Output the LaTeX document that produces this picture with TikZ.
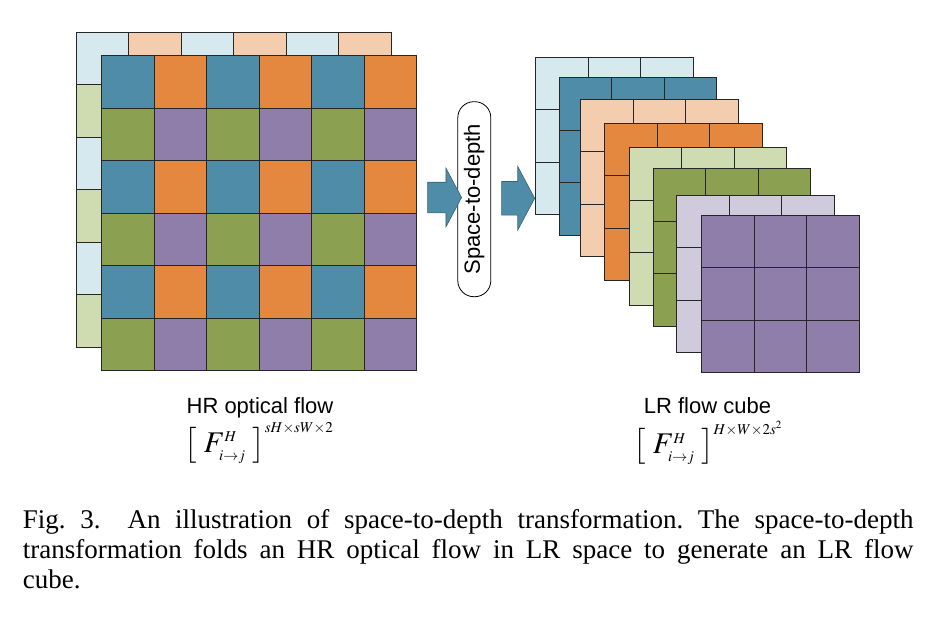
\documentclass[tikz,border=0pt]{standalone}
\usepackage{mathptmx}
\usepackage[no-math]{fontspec}
\setmainfont{Liberation Serif}
\newfontfamily\labelfont{Liberation Sans}
\usetikzlibrary{shapes.arrows}
\DeclareMathSizes{30}{30}{15}{11}

% cell colours: back layer and front layer of the HR flow
\definecolor{back00}{HTML}{D6E9EF}
\definecolor{back01}{HTML}{F4CDAE}
\definecolor{back10}{HTML}{CFDBB1}
\definecolor{back11}{HTML}{D0CADD}
\definecolor{front00}{HTML}{4E8CA7}
\definecolor{front01}{HTML}{E3883E}
\definecolor{front10}{HTML}{8CA052}
\definecolor{front11}{HTML}{8E7EA9}

\begin{document}
\frenchspacing
\begin{tikzpicture}[x=1pt, y=-1pt,
    cell/.style={draw=black!85, line width=0.7pt},
    blockarrow/.style={single arrow, draw=front00!70!black, fill=front00, line width=0.6pt,
        minimum height=34pt, inner xsep=0pt, inner ysep=15pt, single arrow head extend=14pt,
        single arrow tip angle=124},
    pill/.style={draw, line width=0.8pt, rounded corners=16pt, rotate=90, inner sep=0pt,
        minimum width=195pt, minimum height=33pt, font=\labelfont\fontsize{22}{26}\selectfont},
    labeltext/.style={inner sep=0pt, font=\labelfont\fontsize{22}{26}\selectfont},
    mathtext/.style={inner sep=0pt, font=\fontsize{30}{34}\selectfont},
    captext/.style={inner sep=0pt, anchor=base west, font=\fontsize{27}{30}\selectfont}]

    \useasboundingbox (0,0) rectangle (934,616);

    % HR optical flow: back layer (only top row and left column show)
    \coordinate (HRback) at (76,32.3);
    \foreach \r in {0,...,5}
      \foreach \c in {0,...,5}{
        \pgfmathtruncatemacro\rr{mod(\r,2)}
        \pgfmathtruncatemacro\cc{mod(\c,2)}
        \draw[cell, fill=back\rr\cc, shift={(HRback)}] (52.5*\c,52.5*\r) rectangle ++(52.5,52.5);
      }

    % HR optical flow: front layer
    \coordinate (HRfront) at (101.7,55.7);
    \foreach \r in {0,...,5}
      \foreach \c in {0,...,5}{
        \pgfmathtruncatemacro\rr{mod(\r,2)}
        \pgfmathtruncatemacro\cc{mod(\c,2)}
        \draw[cell, fill=front\rr\cc, shift={(HRfront)}] (52.5*\c,52.5*\r) rectangle ++(52.5,52.5);
      }

    % Space-to-depth step between the two
    \node[pill] (s2d) at (474.3,199.2) {Space-to-depth};
    \node[blockarrow] (toS2D) at (440.5,197.5) {};
    \node[blockarrow, minimum height=33pt, inner ysep=16.5pt, single arrow head extend=15pt] (toLR) at (513.7,198.3) {};

    % LR flow cube: eight 3x3 layers, back to front
    \foreach \x/\y/\col [count=\k] in {535.7/57.3/back00, 559/77.7/front00, 580.7/99.3/back01,
        604.7/123.3/front01, 629.3/147.7/back10, 653/168.7/front10, 676.7/195.3/back11, 701.7/215.3/front11}{
      \coordinate (LR\k) at (\x,\y);
      \foreach \r in {0,1,2}
        \foreach \c in {0,1,2}
          \draw[cell, fill=\col, shift={(LR\k)}] (52.5*\c,52.5*\r) rectangle ++(52.5,52.5);
    }

    % Labels under the two blocks
    \node[labeltext, anchor=base] (hrname) at (260,413.3) {HR optical flow};
    \node[mathtext] (hrdim) at (259,443) {$\left[\;F^{H}_{i\to j}\;\right]^{sH\times sW\times 2}$};
    \node[labeltext, anchor=base] (lrname) at (707.5,413.3) {LR flow cube};
    \node[mathtext] (lrdim) at (708,443) {$\left[\;F^{H}_{i\to j}\;\right]^{H\times W\times 2s^{2}}$};

    % Caption
    \node[captext] (cap1) at (22.7,528) {\makebox[890.6pt][s]{Fig.\ 3.\hspace{1em}An illustration of space-to-depth transformation. The space-to-depth}};
    \node[captext] (cap2) at (22.7,558) {\makebox[890.6pt][s]{transformation folds an HR optical flow in LR space to generate an LR flow}};
    \node[captext] (cap3) at (22.7,588) {cube.};
\end{tikzpicture}
\end{document}
